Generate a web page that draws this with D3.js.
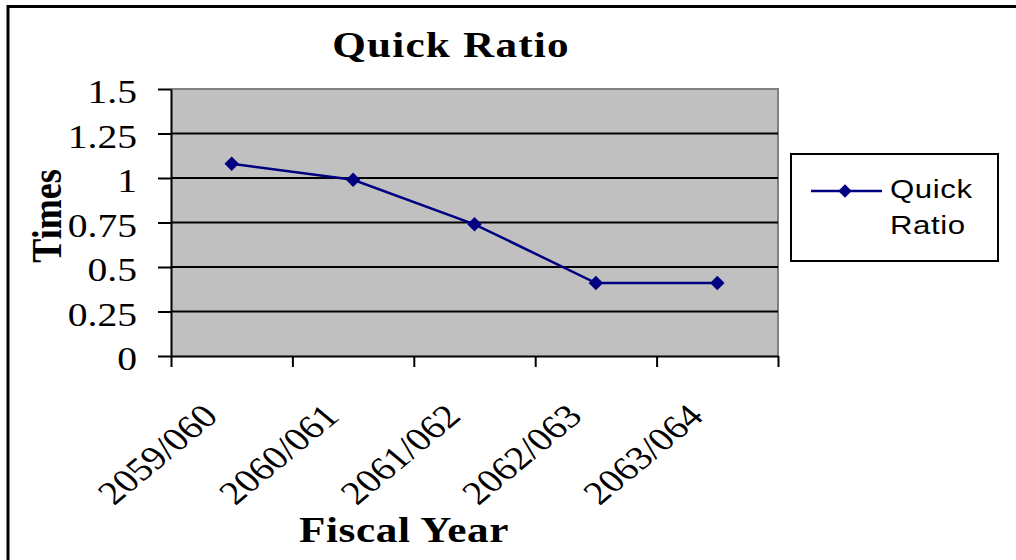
<!DOCTYPE html>
<html><head><meta charset="utf-8">
<script src="https://cdn.jsdelivr.net/npm/d3@7"></script>
<style>body{margin:0;background:#fff}svg{display:block}</style>
</head><body>
<svg id="c" width="1016" height="560"></svg>
<script>
const categories = ["2059/060","2060/061","2061/062","2062/063","2063/064"];
const quickRatio = [1.08, 0.99, 0.74, 0.41, 0.41];
const yTicks = [0, 0.25, 0.5, 0.75, 1, 1.25, 1.5];
const seriesName = "Quick Ratio";

const svg = d3.select("#c");
const serif = "'Liberation Serif','Times New Roman',serif";
const sans = "'Liberation Sans',Arial,sans-serif";
const L = 171, R = 778, T = 89, B = 356;
const SX = 1.2; // horizontal stretch of the original picture

// outer frame
svg.append("path").attr("d","M8,560 V6.5 H1016").attr("fill","none").attr("stroke","#000").attr("stroke-width",3);

const x = d3.scaleBand().domain(categories).range([L,R]).padding(0);
const xb = d3.scaleLinear().domain([0,categories.length]).range([L,R]);
const y = d3.scaleLinear().domain([0,1.5]).range([B,T]);

// plot area
svg.append("rect").attr("x",L).attr("y",T).attr("width",R-L).attr("height",B-T).attr("fill","#c0c0c0");
svg.append("path").attr("d",`M${L},${T} H${R} V${B}`).attr("fill","none").attr("stroke","#808080").attr("stroke-width",2);

// gridlines
svg.append("g").selectAll("line").data(yTicks.filter(d=>d>0 && d<1.5)).join("line")
  .attr("x1",L).attr("x2",R).attr("y1",d=>y(d)).attr("y2",d=>y(d))
  .attr("stroke","#000").attr("stroke-width",2);

// y axis
const ya = svg.append("g").attr("transform",`translate(${L},0)`)
  .call(d3.axisLeft(y).tickValues(yTicks).tickSize(13).tickSizeOuter(0).tickFormat(d=>String(d)));
ya.select(".domain").attr("stroke","#000").attr("stroke-width",2);
ya.selectAll(".tick line").attr("stroke","#000").attr("stroke-width",2);
ya.selectAll(".tick text").attr("x",0).attr("transform",`translate(-34,0) scale(${SX},1)`)
  .attr("font-family",serif).attr("font-size",33).attr("fill","#000").attr("dy","0.42em");

// x axis (ticks at category boundaries)
const xa = svg.append("g").attr("transform",`translate(0,${B})`)
  .call(d3.axisBottom(xb).tickValues(d3.range(categories.length+1)).tickSize(11).tickSizeOuter(0).tickFormat(""));
xa.select(".domain").attr("stroke","#000").attr("stroke-width",2);
xa.selectAll(".tick line").attr("stroke","#000").attr("stroke-width",2);

// rotated category labels
svg.append("g").selectAll("text").data(categories).join("text")
  .attr("transform",d=>`translate(${x(d)+x.bandwidth()/2-12},418) scale(${SX},1) rotate(-45)`)
  .attr("text-anchor","end").attr("font-family",serif).attr("font-size",33)
  .attr("fill","#000").text(d=>d);

// line + markers
const pts = categories.map((c,i)=>[x(c)+x.bandwidth()/2, y(quickRatio[i])]);
svg.append("path").attr("d",d3.line()(pts)).attr("fill","none").attr("stroke","#000080").attr("stroke-width",2.5);
svg.append("g").selectAll("path").data(pts).join("path")
  .attr("transform",d=>`translate(${d[0]},${d[1]}) rotate(45)`)
  .attr("d",d3.symbol().type(d3.symbolSquare).size(105)).attr("fill","#000080");

// title
svg.append("text").attr("transform",`translate(451,57) scale(${SX},1)`).attr("text-anchor","middle")
  .attr("font-family",serif).attr("font-weight","bold").attr("font-size",36)
  .attr("letter-spacing","1px").text("Quick Ratio");

// axis titles
svg.append("text").attr("transform",`translate(61,216) scale(${SX},1) rotate(-90)`).attr("text-anchor","middle")
  .attr("font-family",serif).attr("font-weight","bold").attr("font-size",36).text("Times");
svg.append("text").attr("transform",`translate(404,542) scale(${SX},1)`).attr("text-anchor","middle")
  .attr("font-family",serif).attr("font-weight","bold").attr("font-size",36)
  .attr("letter-spacing","0.5px").text("Fiscal Year");

// legend
const lg = svg.append("g");
lg.append("rect").attr("x",791).attr("y",154).attr("width",207).attr("height",107)
  .attr("fill","#fff").attr("stroke","#000").attr("stroke-width",2);
lg.append("line").attr("x1",811).attr("x2",882).attr("y1",191).attr("y2",191).attr("stroke","#000080").attr("stroke-width",2.5);
lg.append("path").attr("transform","translate(845,191) rotate(45)")
  .attr("d",d3.symbol().type(d3.symbolSquare).size(90)).attr("fill","#000080");
const words = seriesName.split(" ");
lg.selectAll("text.lt").data(words).join("text").attr("class","lt")
  .attr("transform",(d,i)=>`translate(890,${198+i*36}) scale(${SX},1)`)
  .attr("font-family",sans).attr("font-size",26).attr("letter-spacing","0.5px").text(d=>d);
</script>
</body></html>
